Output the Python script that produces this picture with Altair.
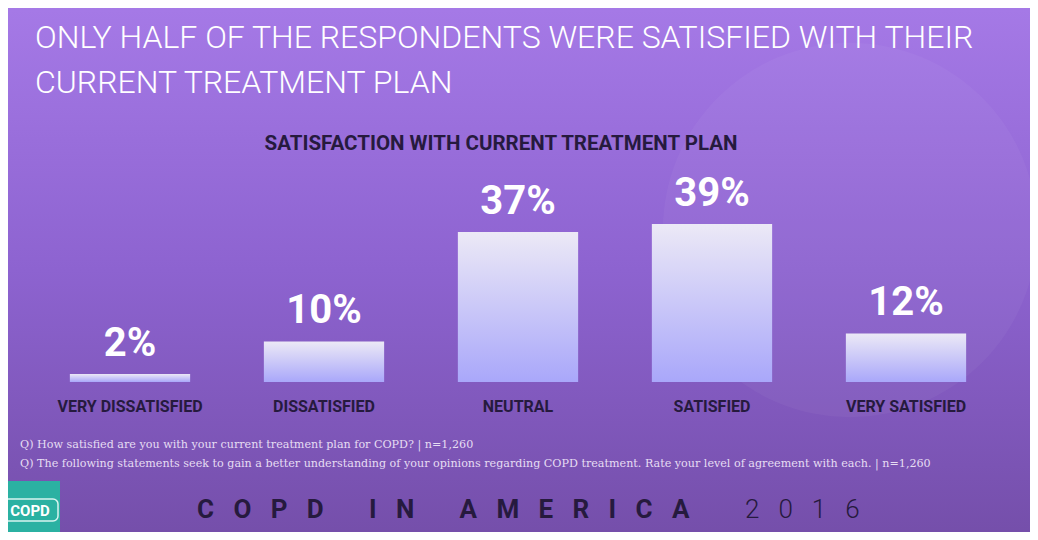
import altair as alt
import pandas as pd

# ---- data ----
categories = ["VERY DISSATISFIED", "DISSATISFIED", "NEUTRAL", "SATISFIED", "VERY SATISFIED"]
values = [2, 10, 37, 39, 12]
value_labels = [f"{v}%" for v in values]

title_lines = ["ONLY HALF OF THE RESPONDENTS WERE SATISFIED WITH THEIR",
               "CURRENT TREATMENT PLAN"]
subtitle = "SATISFACTION WITH CURRENT TREATMENT PLAN"
footnotes = [
    "Q) How satisfied are you with your current treatment plan for COPD? | n=1,260",
    "Q) The following statements seek to gain a better understanding of your opinions regarding COPD treatment. Rate your level of agreement with each. | n=1,260",
]
brand_words = ["COPD", "IN", "AMERICA"]
brand_year = "2016"
logo_text = "COPD"

# ---- layout ----
W, H = 1022, 524
DARK = "#261a3e"

NB = "\u00a0"
brand_text = (NB * 7).join((NB * 3).join(w) for w in brand_words)
year_text = (NB * 3).join(brand_year)

df = pd.DataFrame({"category": categories, "value": values, "label": value_labels})
one = pd.DataFrame({"k": [0]})

xscale = alt.Scale(domain=categories, range=[25, 995], paddingInner=0.38, paddingOuter=0.19)
yscale = alt.Scale(domain=[0, 92.3], range=[374, 0])

bg_grad = alt.Gradient(
    gradient="linear",
    stops=[alt.GradientStop(color="#a67ae7", offset=0),
           alt.GradientStop(color="#8d63d0", offset=0.5),
           alt.GradientStop(color="#744ea9", offset=1)],
    x1=0, x2=0, y1=0, y2=1,
)
bar_grad = alt.Gradient(
    gradient="linear",
    stops=[alt.GradientStop(color="#ece9f6", offset=0),
           alt.GradientStop(color="#a9a7fa", offset=1)],
    x1=0, x2=0, y1=0, y2=1,
)

bg = alt.Chart(one).mark_rect(color=bg_grad).encode(
    x=alt.value(-10), x2=alt.value(W + 10), y=alt.value(-10), y2=alt.value(H + 10)
)
glow = alt.Chart(one).mark_circle(color="white", opacity=0.04, size=140000).encode(
    x=alt.value(842), y=alt.value(222)
)

title = alt.Chart(one).mark_text(
    text=title_lines, align="left", baseline="alphabetic", lineHeight=45,
    font="Roboto", fontWeight=300, fontSize=32, color="white"
).encode(x=alt.value(27), y=alt.value(40))

sub = alt.Chart(one).mark_text(
    text=subtitle, align="center", baseline="alphabetic",
    font="Roboto", fontWeight="bold", fontSize=20.5, color=DARK
).encode(x=alt.value(493), y=alt.value(142))

base = alt.Chart(df).encode(
    x=alt.X("category:N", scale=xscale, axis=None, sort=categories)
)
bars = base.mark_bar(color=bar_grad).encode(
    y=alt.Y("value:Q", scale=yscale, axis=None)
)
vlabels = base.mark_text(
    font="Roboto", fontWeight="bold", fontSize=40, color="white",
    baseline="alphabetic", dy=-18
).encode(y=alt.Y("value:Q", scale=yscale, axis=None), text="label:N")
clabels = base.mark_text(
    font="Roboto", fontWeight="bold", fontSize=16, color=DARK, baseline="alphabetic"
).encode(y=alt.value(404), text="category:N")

notes = alt.Chart(one).mark_text(
    text=footnotes, align="left", baseline="alphabetic", lineHeight=19,
    font="DejaVu Serif", fontSize=11.15, color="#e6ddf3"
).encode(x=alt.value(12), y=alt.value(440))

brand = alt.Chart(one).mark_text(
    text=brand_text, align="left", baseline="alphabetic",
    font="Roboto", fontWeight="bold", fontSize=26, color=DARK
).encode(x=alt.value(189), y=alt.value(510))
year = alt.Chart(one).mark_text(
    text=year_text, align="left", baseline="alphabetic",
    font="Roboto", fontWeight=300, fontSize=26, color=DARK
).encode(x=alt.value(737), y=alt.value(510))

logo_box = alt.Chart(one).mark_rect(color="#2bb1a2").encode(
    x=alt.value(-10), x2=alt.value(52), y=alt.value(473), y2=alt.value(H + 10)
)
logo_bubble = alt.Chart(one).mark_rect(
    fill="#2bb1a2", stroke="#d8f4ef", strokeWidth=1.5, cornerRadius=5
).encode(x=alt.value(-5), x2=alt.value(50), y=alt.value(491), y2=alt.value(513))
logo_word = alt.Chart(one).mark_text(
    text=logo_text, align="center", baseline="middle",
    font="Roboto", fontWeight="bold", fontSize=15, color="white"
).encode(x=alt.value(22), y=alt.value(503))

chart = alt.layer(
    bg, glow, title, sub, bars, vlabels, clabels, notes, brand, year,
    logo_box, logo_bubble, logo_word
).properties(
    width=W, height=H, padding=0,
    autosize=alt.AutoSizeParams(type="none"),
    background="#8d63d0",
).configure_view(stroke=None)

chart.save("out.html", embed_options={"renderer": "svg", "actions": False})
